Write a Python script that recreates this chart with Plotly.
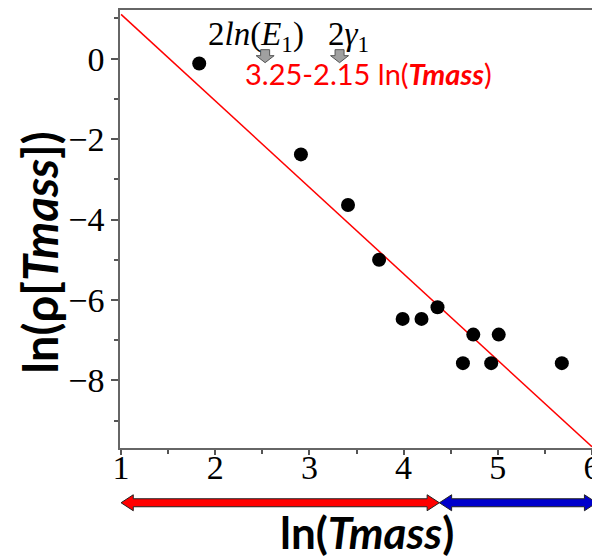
import plotly.graph_objects as go

# data
ln_tmass = [1.83, 2.91, 3.41, 3.74, 3.99, 4.19, 4.36, 4.63, 4.74, 4.93, 5.01, 5.68]
ln_rho = [-0.12, -2.38, -3.64, -5.00, -6.47, -6.47, -6.18, -7.57, -6.86, -7.57, -6.86, -7.57]
fit_a, fit_b = 3.25, -2.15
fit_x = [1, 6]
fit_y = [fit_a + fit_b * v for v in fit_x]
x_ticks = [1, 2, 3, 4, 5, 6]
y_ticks = [0, -2, -4, -6, -8]
split_x = 4.38
red_span = [1.0, split_x]
blue_span = [split_x, 6.05]
marker_x = [2.53, 3.32]
marker_labels = ["2<i>ln</i>(<i>E</i><sub>1</sub>)", "2<i>γ</i><sub>1</sub>"]
label_x = [2.43, 3.42]

fig = go.Figure()
fig.add_trace(go.Scatter(x=fit_x, y=fit_y, mode="lines",
                         line=dict(color="#ff0000", width=1.5), showlegend=False))
fig.add_trace(go.Scatter(x=ln_tmass, y=ln_rho, mode="markers",
                         marker=dict(color="black", size=14), showlegend=False))

serif = "Liberation Serif"
# the page body has an 8px margin, so the figure is sized to fill the window exactly
fig.update_layout(
    width=592, height=550,
    margin=dict(l=112, r=7, t=0, b=110),
    paper_bgcolor="white", plot_bgcolor="white",
    xaxis=dict(range=[0.989, 6.011], tickvals=x_ticks, ticks="outside", ticklen=5,
               tickcolor="#555", tickwidth=1.5,
               showline=True, mirror=True, linecolor="#666", linewidth=1.5,
               showgrid=False, zeroline=False,
               ticklabelstandoff=-17, ticklabeloverflow="allow",
               tickfont=dict(family=serif, size=34, color="black"),
               minor=dict(dtick=0.5, tick0=0, ticks="outside", ticklen=4,
                          tickcolor="#555", tickwidth=1.5)),
    yaxis=dict(range=[-9.68, 1.21], tickvals=y_ticks, ticks="outside", ticklen=7,
               tickcolor="#555", tickwidth=1.5,
               showline=True, mirror=True, linecolor="#666", linewidth=1.5,
               showgrid=False, zeroline=False,
               tickfont=dict(family=serif, size=34, color="black"),
               minor=dict(dtick=1, tick0=0, ticks="outside", ticklen=4,
                          tickcolor="#555", tickwidth=1.5)),
)

annotations = []
annotations.append(dict(text="ln(ρ[<i>Tmass</i>])", xref="paper", yref="paper",
                        x=-0.17, y=0.445, xanchor="center", yanchor="middle",
                        textangle=-90, showarrow=False,
                        font=dict(family="Lato", size=47, color="black", weight="bold")))
annotations.append(dict(text="ln(<i>Tmass</i>)", xref="paper", yref="paper",
                        x=0.523, y=-0.192, xanchor="center", yanchor="middle",
                        showarrow=False,
                        font=dict(family="Lato", size=44, color="black", weight="bold")))
annotations.append(dict(text="3.25-2.15 ln(<b><i>Tmass</i></b>)", xref="x", yref="y",
                        x=2.30, y=-0.37, xanchor="left", yanchor="middle", showarrow=False,
                        font=dict(family="Lato", size=29, color="#ff0000")))
for lx, lt in zip(label_x, marker_labels):
    annotations.append(dict(text=lt, xref="x", yref="y", x=lx, y=0.55,
                            xanchor="center", yanchor="middle", showarrow=False,
                            font=dict(family=serif, size=33, color="black")))
fig.update_layout(annotations=annotations)

shapes = []
for mx in marker_x:
    shapes.append(dict(type="path", xref="x", yref="y", xsizemode="pixel",
                       ysizemode="pixel", xanchor=mx, yanchor=0.05,
                       path="M -4.5,7 L 4.5,7 L 4.5,1 L 9,1 L 0,-6 L -9,1 L -4.5,1 Z",
                       fillcolor="#a0a0a0", line=dict(color="#555", width=1)))

head = 0.13
def dbl_arrow(x0, x1):
    return (f"M {x0},0 L {x0 + head},8 L {x0 + head},4 L {x1 - head},4 "
            f"L {x1 - head},8 L {x1},0 L {x1 - head},-8 L {x1 - head},-4 "
            f"L {x0 + head},-4 L {x0 + head},-8 Z")

for span, col in [(red_span, "#ff0000"), (blue_span, "#0000cc")]:
    shapes.append(dict(type="path", xref="x", yref="paper", ysizemode="pixel",
                       yanchor=-0.125, path=dbl_arrow(span[0], span[1]),
                       fillcolor=col, line=dict(color="#222", width=1)))
fig.update_layout(shapes=shapes)

fig.write_html("out.html")
